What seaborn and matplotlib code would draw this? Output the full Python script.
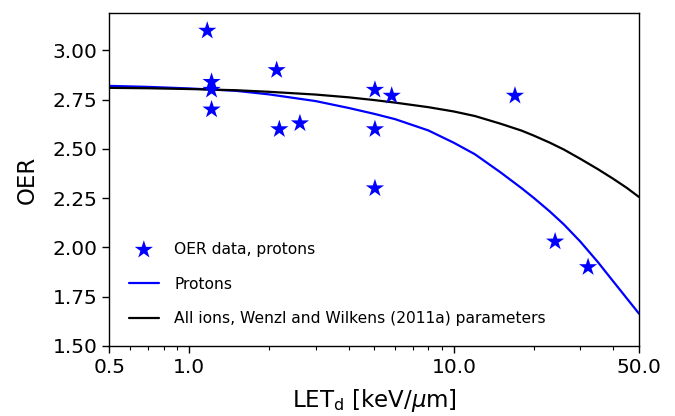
import numpy as np
import pandas as pd
import matplotlib
matplotlib.use("Agg")
import matplotlib.pyplot as plt
import seaborn as sns
from matplotlib.ticker import FixedLocator, FixedFormatter, LogLocator, NullFormatter

# measured OER data (protons)
let_data = [1.17, 1.215, 1.215, 1.215, 2.14, 2.19, 2.62, 5.03, 5.03, 5.03, 5.82, 17.0, 24.1, 32.1]
oer_data = [3.10, 2.84, 2.80, 2.70, 2.90, 2.60, 2.63, 2.80, 2.60, 2.30, 2.77, 2.77, 2.03, 1.90]

# model curves
let_curve = [0.5, 0.7, 1.0, 1.5, 2.0, 3.0, 4.0, 5.0, 6.0, 8.0, 10.0, 12.0, 15.0, 18.0,
             20.0, 23.0, 26.0, 30.0, 35.0, 40.0, 45.0, 50.0]
oer_protons = [2.82, 2.815, 2.807, 2.795, 2.777, 2.743, 2.708, 2.678, 2.651, 2.594, 2.531, 2.473,
               2.381, 2.301, 2.252, 2.183, 2.117, 2.03, 1.925, 1.827, 1.741, 1.664]
oer_allions = [2.81, 2.808, 2.804, 2.798, 2.79, 2.776, 2.762, 2.748, 2.735, 2.712, 2.69, 2.667,
               2.628, 2.593, 2.568, 2.532, 2.497, 2.45, 2.397, 2.348, 2.302, 2.256]

xticks = [0.5, 1.0, 10.0, 50.0]
xtick_labels = ["0.5", "1.0", "10.0", "50.0"]
yticks = [1.50, 1.75, 2.00, 2.25, 2.50, 2.75, 3.00]

sns.set_style("ticks", {"axes.edgecolor": "black", "xtick.color": "black", "ytick.color": "black",
                        "text.color": "black", "axes.labelcolor": "black"})
plt.rcParams["font.family"] = ["DejaVu Sans"]

pts = pd.DataFrame({"LET": let_data, "OER": oer_data})
curves = pd.DataFrame({"LET": let_curve, "Protons": oer_protons, "All": oer_allions})

fig, ax = plt.subplots(figsize=(6.75, 4.16), dpi=100)
fig.subplots_adjust(left=0.1622, right=0.9467, top=0.9688, bottom=0.1683)

sns.scatterplot(data=pts, x="LET", y="OER", marker="*", s=190, color="blue",
                edgecolor="none", label="OER data, protons", ax=ax, zorder=3)
sns.lineplot(data=curves, x="LET", y="Protons", color="blue", linewidth=1.6,
             label="Protons", ax=ax)
sns.lineplot(data=curves, x="LET", y="All", color="black", linewidth=1.6,
             label="All ions, Wenzl and Wilkens (2011a) parameters", ax=ax)

ax.set_xscale("log")
ax.set_xlim(0.5, 50)
ax.set_ylim(1.5, 3.19)
ax.xaxis.set_major_locator(FixedLocator(xticks))
ax.xaxis.set_major_formatter(FixedFormatter(xtick_labels))
ax.xaxis.set_minor_locator(LogLocator(base=10, subs=np.arange(2, 10)))
ax.xaxis.set_minor_formatter(NullFormatter())
ax.set_yticks(yticks)
ax.set_yticklabels([f"{v:.2f}" for v in yticks])
ax.tick_params(axis="both", which="major", labelsize=14.5, length=5, width=1)
ax.tick_params(axis="x", which="minor", length=3, width=0.8)

ax.set_xlabel(r"LET$_\mathrm{d}$ [keV/$\mu$m]", fontsize=16.5, labelpad=7)
ax.set_ylabel("OER", fontsize=16.5, labelpad=10)

for side in ["top", "right", "left", "bottom"]:
    ax.spines[side].set_visible(True)
    ax.spines[side].set_linewidth(1.0)

ax.legend(loc="lower left", frameon=False, fontsize=11.2, labelspacing=1.27,
          handlelength=1.9, handletextpad=1.0, borderaxespad=0.86,
          bbox_to_anchor=(0.0, 0.0))

fig.savefig("out.png", dpi=100)
